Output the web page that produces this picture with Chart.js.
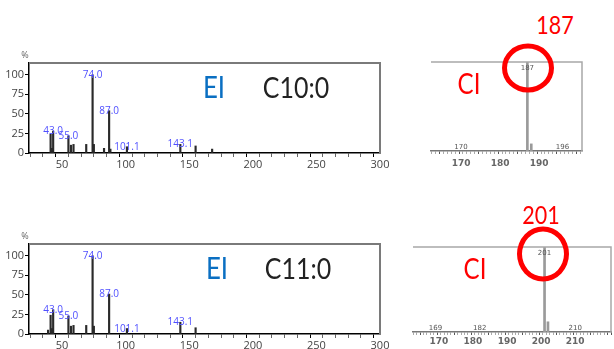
<!DOCTYPE html>
<html>
<head>
<meta charset="utf-8">
<script src="https://cdn.jsdelivr.net/npm/chart.js@4.4.0/dist/chart.umd.min.js"></script>
<style>
    body { margin: 0; width: 614px; height: 349px; overflow: hidden; background: #fff; position: relative; font-family: 'Open Sans', sans-serif; }
    .box { position: absolute; }
    .txt { position: absolute; transform: translate(-50%, -50%) scaleX(.86); white-space: nowrap; line-height: 1;
           font-family: 'Lato', 'Open Sans', sans-serif; font-weight: 400; }
    .ring { position: absolute; box-sizing: border-box; border: 5px solid #f00; border-radius: 50%; transform: translate(-50%, -50%); }
</style>
</head>
<body>
<div class="box" style="left:0;top:40px;width:400px;height:135px"><canvas id="eiTop"></canvas></div>
<div class="box" style="left:0;top:220px;width:400px;height:129px"><canvas id="eiBottom"></canvas></div>
<div class="box" style="left:420px;top:40px;width:180px;height:130px"><canvas id="ciTop"></canvas></div>
<div class="box" style="left:400px;top:225px;width:214px;height:124px"><canvas id="ciBottom"></canvas></div>

<div class="txt" style="left:214px;top:86px;font-size:30px;color:#0a6fc2">EI</div>
<div class="txt" style="left:296px;top:86px;font-size:29px;color:#222">C10:0</div>
<div class="txt" style="left:217px;top:267px;font-size:30px;color:#0a6fc2">EI</div>
<div class="txt" style="left:298px;top:267px;font-size:29px;color:#222">C11:0</div>
<div class="txt" style="left:469px;top:83px;font-size:28px;color:#f00">CI</div>
<div class="txt" style="left:475px;top:268px;font-size:28px;color:#f00">CI</div>
<div class="txt" style="left:555px;top:24px;font-size:25px;color:#f00">187</div>
<div class="txt" style="left:541px;top:214px;font-size:25px;color:#f00">201</div>
<div class="ring" style="left:528px;top:68px;width:52px;height:49px"></div>
<div class="ring" style="left:543px;top:254px;width:52px;height:55px"></div>

<script>
// --- EI spectrum, C10:0 (m/z, relative intensity %) ---
const c10Mz  = [41, 42, 43, 55, 57, 59, 69, 74, 75, 83, 87, 88, 101, 143, 155, 168];
const c10Int = [24, 6, 28, 22, 10, 11, 11, 100, 11, 6, 54, 5, 8, 11, 9, 5];
const c10LabelMz   = [43, 55, 74, 87, 101, 143];
const c10LabelText = ['43.0', '55.0', '74.0', '87.0', '101.1', '143.1'];

// --- EI spectrum, C11:0 ---
const c11Mz  = [39, 41, 42, 43, 55, 57, 59, 69, 74, 75, 87, 101, 143, 155];
const c11Int = [5, 24, 7, 31, 23, 10, 11, 11, 100, 10, 51, 7, 15, 8];
const c11LabelMz   = [43, 55, 74, 87, 101, 143];
const c11LabelText = ['43.0', '55.0', '74.0', '87.0', '101.1', '143.1'];

// --- CI spectra (zoomed) ---
const ciTopMz  = [187, 188];
const ciTopInt = [100, 8];
const ciTopPeakMz = [187];
const ciTopPeakText = ['187'];
const ciTopBaseMz = [170, 196];
const ciTopBaseText = ['170', '196'];

const ciBotMz  = [201, 202];
const ciBotInt = [100, 12];
const ciBotPeakMz = [201];
const ciBotPeakText = ['201'];
const ciBotBaseMz = [169, 182, 210];
const ciBotBaseText = ['169', '182', '210'];

const eiTicksY = [0, 25, 50, 75, 100];

const toPoints = (mz, val) => mz.map((m, i) => ({ x: m, y: val[i] }));
const tickVal = c => (c.tick ? c.tick.value : 0);

// frame (top/right border), unit label, peak labels
const spectrumPlugin = {
    id: 'spectrum',
    afterDatasetsDraw(chart, args, opts) {
        const { ctx, chartArea: a, scales: { x, y } } = chart;
        const pts = chart.data.datasets[0].data;
        ctx.save();
        ctx.strokeStyle = opts.frameColor;
        ctx.lineWidth = opts.frameWidth;
        ctx.beginPath();
        ctx.moveTo(a.left, a.top);
        ctx.lineTo(a.right, a.top);
        ctx.lineTo(a.right, a.bottom);
        ctx.stroke();

        if (opts.unit) {
            ctx.fillStyle = '#666';
            ctx.font = '9px "Open Sans"';
            ctx.textAlign = 'center';
            ctx.textBaseline = 'alphabetic';
            ctx.fillText(opts.unit, a.left - 4, a.top - 5);
        }

        ctx.textAlign = 'center';
        ctx.textBaseline = 'alphabetic';
        ctx.font = opts.labelFont;
        ctx.fillStyle = opts.labelColor;
        (opts.peakMz || []).forEach((m, i) => {
            const p = pts.find(d => d.x === m);
            ctx.fillText(opts.peakText[i], x.getPixelForValue(m), y.getPixelForValue(p ? p.y : 0) + opts.peakDy);
        });
        (opts.baseMz || []).forEach((m, i) => {
            ctx.fillText(opts.baseText[i], x.getPixelForValue(m), y.getPixelForValue(0) + opts.baseDy);
        });
        ctx.restore();
    }
};

function eiChart(id, mz, val, labelMz, labelText, padTop, xHeight) {
    new Chart(document.getElementById(id), {
        type: 'bar',
        data: { datasets: [{ data: toPoints(mz, val), backgroundColor: '#2a2a2a', barThickness: 1.5 }] },
        options: {
            responsive: true,
            maintainAspectRatio: false,
            animation: false,
            layout: { padding: { left: 0, top: padTop, right: 20, bottom: 0 } },
            scales: {
                x: {
                    type: 'linear', min: 24, max: 300, offset: false,
                    border: { color: '#000', width: 1.5 },
                    grid: { drawOnChartArea: false, tickLength: 4, tickColor: c => tickVal(c) % 50 === 0 ? '#000' : '#666' },
                    ticks: { stepSize: 10, includeBounds: false, autoSkip: false, maxRotation: 0, padding: 1, color: '#444',
                        font: { family: 'Open Sans', size: 11 }, callback: v => v % 50 === 0 ? v : '' },
                    afterFit: s => { s.height = xHeight; }
                },
                y: {
                    min: 0, max: 115,
                    border: { color: '#000', width: 1.5 },
                    grid: { drawOnChartArea: false, tickLength: 4, tickColor: '#000' },
                    ticks: { stepSize: 25, includeBounds: false, padding: 1, color: '#444',
                        font: { family: 'Open Sans', size: 11 } },
                    afterBuildTicks: s => { s.ticks = eiTicksY.map(v => ({ value: v })); },
                    afterFit: s => { s.width = 29; }
                }
            },
            plugins: {
                legend: { display: false },
                tooltip: { enabled: false },
                spectrum: {
                    frameColor: '#7a7a7a', frameWidth: 2, unit: '%',
                    labelFont: '10px "Open Sans"', labelColor: '#5050ff',
                    peakMz: labelMz, peakText: labelText, peakDy: 3
                }
            }
        },
        plugins: [spectrumPlugin]
    });
}

function ciChart(id, mz, val, min, max, pad, xHeight, labPad, peakMz, peakText, baseMz, baseText) {
    new Chart(document.getElementById(id), {
        type: 'bar',
        data: { datasets: [{ data: toPoints(mz, val), backgroundColor: '#9a9a9a', barThickness: 2 }] },
        options: {
            responsive: true,
            maintainAspectRatio: false,
            animation: false,
            layout: { padding: pad },
            scales: {
                x: {
                    type: 'linear', min: min, max: max, offset: false,
                    border: { color: '#777', width: 1.5 },
                    grid: { drawOnChartArea: false, tickLength: 3, tickColor: c => tickVal(c) % 5 === 0 ? '#555' : '#aaa' },
                    ticks: { stepSize: 1, includeBounds: false, autoSkip: false, maxRotation: 0, padding: labPad, color: '#666',
                        font: { family: 'DejaVu Sans', size: 9, weight: 'bold' },
                        // labels every 10, none squeezed against the right edge
                        callback: v => (v % 10 === 0 && v < max - 3) ? v : '' },
                    afterFit: s => { s.height = xHeight; }
                },
                y: { display: false, min: 0, max: 100 }
            },
            plugins: {
                legend: { display: false },
                tooltip: { enabled: false },
                spectrum: {
                    frameColor: '#a8a8a8', frameWidth: 1.5,
                    labelFont: '7px "DejaVu Sans"', labelColor: '#555',
                    peakMz: peakMz, peakText: peakText, peakDy: 8,
                    baseMz: baseMz, baseText: baseText, baseDy: -2
                }
            }
        },
        plugins: [spectrumPlugin]
    });
}

eiChart('eiTop', c10Mz, c10Int, c10LabelMz, c10LabelText, 23, 22);
eiChart('eiBottom', c11Mz, c11Int, c11LabelMz, c11LabelText, 24, 15);
ciChart('ciTop', ciTopMz, ciTopInt, 162.3, 201, { left: 11, right: 18, top: 22, bottom: 0 }, 19, 4,
    ciTopPeakMz, ciTopPeakText, ciTopBaseMz, ciTopBaseText);
ciChart('ciBottom', ciBotMz, ciBotInt, 162.4, 220.5, { left: 13, right: 3, top: 22, bottom: 0 }, 17, 1.5,
    ciBotPeakMz, ciBotPeakText, ciBotBaseMz, ciBotBaseText);
</script>
</body>
</html>
